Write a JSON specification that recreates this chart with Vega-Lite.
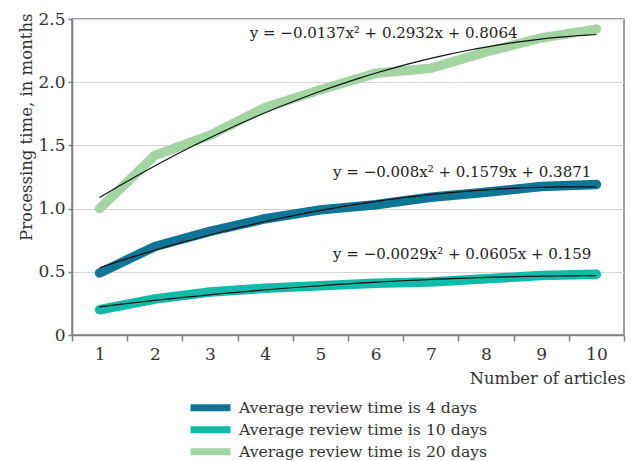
{
  "$schema": "https://vega.github.io/schema/vega-lite/v6.json",
  "autosize": "none",
  "width": 552,
  "height": 316,
  "padding": {"left": 72, "top": 19, "right": 9, "bottom": 126},
  "background": "white",
  "config": {
    "font": "DejaVu Serif",
    "view": {"stroke": "#808080", "strokeWidth": 1.5},
    "axis": {"labelFont": "DejaVu Serif", "titleFont": "DejaVu Serif", "labelColor": "#333", "titleColor": "#333", "titleFontWeight": "normal", "domainColor": "#808080", "tickColor": "#808080", "domainWidth": 1.5, "tickWidth": 1.5}
  },
  "datasets": {
    "series": [
      {"n": 1, "series": "Average review time is 4 days", "v": 0.49},
      {"n": 2, "series": "Average review time is 4 days", "v": 0.70},
      {"n": 3, "series": "Average review time is 4 days", "v": 0.82},
      {"n": 4, "series": "Average review time is 4 days", "v": 0.92},
      {"n": 5, "series": "Average review time is 4 days", "v": 0.99},
      {"n": 6, "series": "Average review time is 4 days", "v": 1.03},
      {"n": 7, "series": "Average review time is 4 days", "v": 1.09},
      {"n": 8, "series": "Average review time is 4 days", "v": 1.13},
      {"n": 9, "series": "Average review time is 4 days", "v": 1.175},
      {"n": 10, "series": "Average review time is 4 days", "v": 1.19},
      {"n": 1, "series": "Average review time is 10 days", "v": 0.20},
      {"n": 2, "series": "Average review time is 10 days", "v": 0.285},
      {"n": 3, "series": "Average review time is 10 days", "v": 0.34},
      {"n": 4, "series": "Average review time is 10 days", "v": 0.37},
      {"n": 5, "series": "Average review time is 10 days", "v": 0.39},
      {"n": 6, "series": "Average review time is 10 days", "v": 0.41},
      {"n": 7, "series": "Average review time is 10 days", "v": 0.42},
      {"n": 8, "series": "Average review time is 10 days", "v": 0.445},
      {"n": 9, "series": "Average review time is 10 days", "v": 0.47},
      {"n": 10, "series": "Average review time is 10 days", "v": 0.48},
      {"n": 1, "series": "Average review time is 20 days", "v": 1.00},
      {"n": 2, "series": "Average review time is 20 days", "v": 1.42},
      {"n": 3, "series": "Average review time is 20 days", "v": 1.58},
      {"n": 4, "series": "Average review time is 20 days", "v": 1.80},
      {"n": 5, "series": "Average review time is 20 days", "v": 1.94},
      {"n": 6, "series": "Average review time is 20 days", "v": 2.07},
      {"n": 7, "series": "Average review time is 20 days", "v": 2.11},
      {"n": 8, "series": "Average review time is 20 days", "v": 2.24},
      {"n": 9, "series": "Average review time is 20 days", "v": 2.35},
      {"n": 10, "series": "Average review time is 20 days", "v": 2.42}
    ],
    "labels": [
      {"n": 3.72, "v": 2.39, "label": "y = −0.0137x² + 0.2932x + 0.8064"},
      {"n": 5.23, "v": 1.29, "label": "y = −0.008x² + 0.1579x + 0.3871"},
      {"n": 5.23, "v": 0.64, "label": "y = −0.0029x² + 0.0605x + 0.159"}
    ]
  },
  "encoding": {
    "y": {
      "field": "v", "type": "quantitative",
      "scale": {"domain": [0, 2.5], "nice": false, "zero": true},
      "axis": {
        "values": [0, 0.5, 1, 1.5, 2, 2.5],
        "labelExpr": "datum.value == 0 ? '0' : format(datum.value, '.1f')",
        "labelFontSize": 17, "tickSize": 4, "labelPadding": 3,
        "grid": true, "gridColor": "#d6d6d6", "gridWidth": 1.2,
        "title": "Processing time, in months", "titleFontSize": 16.5,
        "titleAngle": -90, "titleAlign": "right", "titleBaseline": "middle",
        "titleX": -46, "titleY": -6
      }
    }
  },
  "layer": [
    {
      "data": {"name": "series"},
      "mark": {"type": "line", "strokeWidth": 9.5, "strokeCap": "round", "strokeJoin": "round"},
      "encoding": {
        "x": {
          "field": "n", "type": "ordinal", "bandPosition": 0.5,
          "scale": {"type": "band", "paddingInner": 0, "paddingOuter": 0},
          "axis": {
            "labelAngle": 0, "labelFontSize": 17, "tickBand": "extent", "tickSize": 6, "labelPadding": 5,
            "grid": false,
            "title": "Number of articles", "titleFontSize": 16.3,
            "titleAlign": "right", "titleAnchor": "end", "titleBaseline": "middle",
            "titleX": 553, "titleY": 43
          }
        },
        "color": {
          "field": "series", "type": "nominal",
          "scale": {
            "domain": ["Average review time is 4 days", "Average review time is 10 days", "Average review time is 20 days"],
            "range": ["#0e7596", "#12bba9", "#a3d5a3"]
          },
          "legend": {
            "orient": "none", "legendX": 115, "legendY": 378, "direction": "vertical",
            "title": null, "padding": 0,
            "symbolType": "stroke", "symbolSize": 1600, "symbolStrokeWidth": 7,
            "labelFont": "DejaVu Serif", "labelFontSize": 15.7, "labelColor": "#333",
            "labelOffset": 5, "rowPadding": 0, "clipHeight": 21.5, "labelLimit": 400
          }
        }
      }
    },
    {
      "data": {"name": "series"},
      "transform": [
        {"regression": "v", "on": "n", "groupby": ["series"], "method": "poly", "order": 2}
      ],
      "mark": {"type": "line", "color": "#111", "strokeWidth": 1.2},
      "encoding": {
        "x": {"field": "n", "type": "quantitative", "scale": {"domain": [0.5, 10.5], "nice": false, "zero": false}, "axis": null},
        "detail": {"field": "series"}
      }
    },
    {
      "data": {"name": "labels"},
      "mark": {"type": "text", "align": "left", "baseline": "middle", "fontSize": 15, "color": "#222", "font": "DejaVu Serif"},
      "encoding": {
        "x": {"field": "n", "type": "quantitative", "scale": {"domain": [0.5, 10.5], "nice": false, "zero": false}, "axis": null},
        "text": {"field": "label"}
      }
    }
  ],
  "resolve": {"scale": {"x": "independent"}}
}
